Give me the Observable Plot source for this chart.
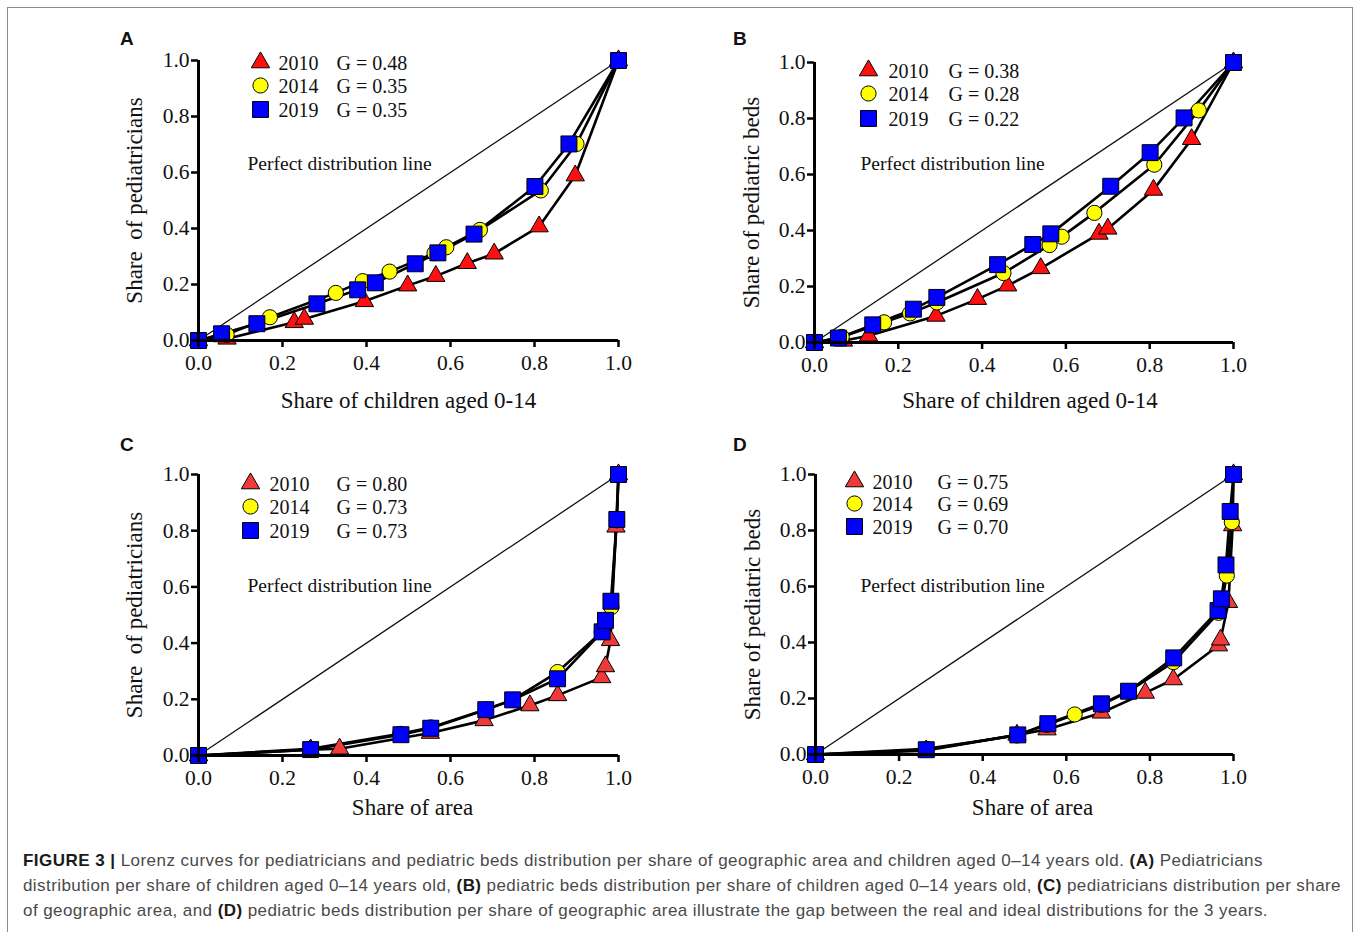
<!DOCTYPE html>
<html><head><meta charset="utf-8">
<script src="https://cdn.jsdelivr.net/npm/d3@7"></script>
<script src="https://cdn.jsdelivr.net/npm/@observablehq/plot@0.6"></script>
<style>
html,body{margin:0;padding:0;background:#fff;}
#fig{position:relative;width:1357px;height:932px;overflow:hidden;background:#fff;}
#frame{position:absolute;left:7px;top:7px;width:1346px;height:960px;border:1.5px solid #8c8c8c;box-sizing:border-box;}
.panel{position:absolute;}
.letter{position:absolute;font:bold 19px "Liberation Sans",Arial,sans-serif;color:#111;line-height:1;}
#caption{position:absolute;left:23px;top:848px;font:17px "Liberation Sans",Arial,sans-serif;color:#4a4a4a;line-height:25px;white-space:nowrap;}
#caption b{color:#1a1a1a;}
#caption .ln{display:block;}
</style></head>
<body>
<div id="fig">
  <div id="frame"></div>
  <div class="letter" style="left:120px;top:29px">A</div>
  <div class="letter" style="left:733px;top:29px">B</div>
  <div class="letter" style="left:120px;top:435px">C</div>
  <div class="letter" style="left:733px;top:435px">D</div>
  <div id="caption">
    <span class="ln"><b>FIGURE 3 |</b> Lorenz curves for pediatricians and pediatric beds distribution per share of geographic area and children aged 0–14 years old. <b>(A)</b> Pediatricians</span>
    <span class="ln">distribution per share of children aged 0–14 years old, <b>(B)</b> pediatric beds distribution per share of children aged 0–14 years old, <b>(C)</b> pediatricians distribution per share</span>
    <span class="ln">of geographic area, and <b>(D)</b> pediatric beds distribution per share of geographic area illustrate the gap between the real and ideal distributions for the 3 years.</span>
  </div>
</div>
<script>
// ---------- DATA ----------
const years = ["2010", "2014", "2019"];
const tickValues = [0, 0.2, 0.4, 0.6, 0.8, 1.0];
const diagonal = [0, 1];

// Panel A: pediatricians vs share of children aged 0-14
const aX2010 = [0, 0.068, 0.228, 0.252, 0.395, 0.498, 0.565, 0.640, 0.704, 0.811, 0.897, 1];
const aY2010 = [0, 0.006, 0.065, 0.077, 0.140, 0.196, 0.230, 0.276, 0.310, 0.407, 0.589, 1];
const aX2014 = [0, 0.067, 0.170, 0.327, 0.391, 0.455, 0.562, 0.590, 0.670, 0.815, 0.900, 1];
const aY2014 = [0, 0.021, 0.083, 0.170, 0.212, 0.246, 0.312, 0.333, 0.395, 0.536, 0.702, 1];
const aX2019 = [0, 0.055, 0.139, 0.282, 0.379, 0.421, 0.516, 0.570, 0.656, 0.801, 0.882, 1];
const aY2019 = [0, 0.024, 0.060, 0.131, 0.181, 0.206, 0.274, 0.313, 0.380, 0.550, 0.702, 1];
const giniA = ["0.48", "0.35", "0.35"];

// Panel B: pediatric beds vs share of children aged 0-14
const bX2010 = [0, 0.069, 0.129, 0.290, 0.389, 0.461, 0.540, 0.679, 0.700, 0.809, 0.900, 1];
const bY2010 = [0, 0.006, 0.024, 0.095, 0.155, 0.203, 0.265, 0.388, 0.406, 0.545, 0.726, 1];
const bX2014 = [0, 0.065, 0.166, 0.228, 0.292, 0.451, 0.561, 0.590, 0.668, 0.811, 0.917, 1];
const bY2014 = [0, 0.020, 0.072, 0.104, 0.143, 0.248, 0.348, 0.378, 0.463, 0.635, 0.829, 1];
const bX2019 = [0, 0.057, 0.139, 0.236, 0.292, 0.437, 0.521, 0.564, 0.707, 0.801, 0.882, 1];
const bY2019 = [0, 0.016, 0.063, 0.119, 0.161, 0.278, 0.350, 0.388, 0.558, 0.678, 0.802, 1];
const giniB = ["0.38", "0.28", "0.22"];

// Panel C: pediatricians vs share of area
const cX2010 = [0, 0.267, 0.336, 0.552, 0.680, 0.789, 0.855, 0.960, 0.969, 0.981, 0.994, 1];
const cY2010 = [0, 0.021, 0.024, 0.080, 0.125, 0.178, 0.214, 0.278, 0.317, 0.410, 0.814, 1];
const cX2014 = [0, 0.267, 0.480, 0.553, 0.684, 0.748, 0.855, 0.960, 0.969, 0.983, 0.996, 1];
const cY2014 = [0, 0.024, 0.077, 0.100, 0.164, 0.198, 0.297, 0.440, 0.481, 0.528, 0.837, 1];
const cX2019 = [0, 0.267, 0.482, 0.553, 0.684, 0.748, 0.855, 0.961, 0.969, 0.982, 0.996, 1];
const cY2019 = [0, 0.021, 0.074, 0.097, 0.163, 0.198, 0.273, 0.440, 0.481, 0.549, 0.840, 1];
const giniC = ["0.80", "0.73", "0.73"];

// Panel D: pediatric beds vs share of area
const dX2010 = [0, 0.265, 0.482, 0.554, 0.684, 0.789, 0.856, 0.964, 0.969, 0.988, 0.998, 1];
const dY2010 = [0, 0.014, 0.070, 0.089, 0.149, 0.220, 0.268, 0.389, 0.410, 0.544, 0.818, 1];
const dX2014 = [0, 0.265, 0.482, 0.554, 0.620, 0.684, 0.749, 0.856, 0.964, 0.972, 0.984, 0.996, 1];
const dY2014 = [0, 0.020, 0.068, 0.106, 0.143, 0.177, 0.225, 0.330, 0.506, 0.544, 0.639, 0.830, 1];
const dX2019 = [0, 0.265, 0.484, 0.556, 0.684, 0.749, 0.857, 0.963, 0.971, 0.982, 0.992, 1];
const dY2019 = [0, 0.017, 0.070, 0.110, 0.181, 0.226, 0.345, 0.514, 0.556, 0.677, 0.868, 1];
const giniD = ["0.75", "0.69", "0.70"];

const xLabelChildren = "Share of children aged 0-14";
const xLabelArea = "Share of area";
const yLabelPed = "Share  of pediatricians";
const yLabelBeds = "Share of pediatric beds";
const perfectLabel = "Perfect distribution line";

// ---------- LAYOUT / STYLE ----------
const SERIF = "'Liberation Serif','Times New Roman',serif";
const panels = [
  {x0:198, x1:618, yT:60,  yB:340, X:[aX2010,aX2014,aX2019], Y:[aY2010,aY2014,aY2019], gini:giniA,
   xl:xLabelChildren, yl:yLabelPed, red:"#ff1010",
   leg:{sym:62, yr:80, g:138, rows:[2,25,49]}, perf:{dx:49, dy:103}, xlDy:60, xlDx:0, ylDx:-64},
  {x0:814, x1:1233, yT:62, yB:342, X:[bX2010,bX2014,bX2019], Y:[bY2010,bY2014,bY2019], gini:giniB,
   xl:xLabelChildren, yl:yLabelBeds, red:"#ff1010",
   leg:{sym:54, yr:74, g:134, rows:[8,31,56]}, perf:{dx:46, dy:101}, xlDy:58, xlDx:6, ylDx:-63},
  {x0:198, x1:618, yT:474, yB:755, X:[cX2010,cX2014,cX2019], Y:[cY2010,cY2014,cY2019], gini:giniC,
   xl:xLabelArea, yl:yLabelPed, red:"#f03a3a",
   leg:{sym:52, yr:71, g:138, rows:[9,32,56]}, perf:{dx:49, dy:111}, xlDy:52, xlDx:4, ylDx:-64},
  {x0:815, x1:1233, yT:474, yB:754, X:[dX2010,dX2014,dX2019], Y:[dY2010,dY2014,dY2019], gini:giniD,
   xl:xLabelArea, yl:yLabelBeds, red:"#f03a3a",
   leg:{sym:39, yr:57, g:122, rows:[7,29,52]}, perf:{dx:45, dy:111}, xlDy:53, xlDx:8, ylDx:-63}
];
const ML = 100, MR = 40, MT = 40, MB = 80;
const symbols = ["triangle", "circle", "square"];
const radii = [6.8, 7.6, 9.0];

const fig = document.getElementById("fig");
panels.forEach(p => {
  const fills = [p.red, "#ffff00", "#0000ff"];
  const series = p.X.map((xs, k) => xs.map((x, i) => ({x, y: p.Y[k][i]})));
  const marks = [
    Plot.line(diagonal, {x: d => d, y: d => d, stroke: "#111", strokeWidth: 1.3}),
    ...series.map(s => Plot.line(s, {x: "x", y: "y", stroke: "#000", strokeWidth: 2.6})),
    ...series.map((s, k) => Plot.dot(s, {x: "x", y: "y", symbol: () => symbols[k], fill: fills[k], stroke: "#000", strokeWidth: 1, r: radii[k]})),
    Plot.ruleX([0], {stroke: "#000", strokeWidth: 3}),
    Plot.ruleY([0], {stroke: "#000", strokeWidth: 3}),
    Plot.axisX({ticks: tickValues, tickFormat: d3.format(".1f"), tickSize: 7, tickPadding: 7, fontSize: 21.5, strokeWidth: 2.5, label: null, fill: "#111"}),
    Plot.axisY({ticks: tickValues, tickFormat: d3.format(".1f"), tickSize: 7, tickPadding: 2, fontSize: 21.5, strokeWidth: 2.5, label: null, fill: "#111"}),
    Plot.text([p.xl], {text: d => d, frameAnchor: "bottom", dx: p.xlDx, dy: p.xlDy, lineAnchor: "middle", fontSize: 23, fill: "#111"}),
    Plot.text([p.yl], {text: d => d, frameAnchor: "left", dx: p.ylDx, rotate: -90, lineAnchor: "middle", textAnchor: "middle", fontSize: 23, fill: "#111"}),
    Plot.text([perfectLabel], {text: d => d, frameAnchor: "top-left", dx: p.perf.dx, dy: p.perf.dy, textAnchor: "start", lineAnchor: "middle", fontSize: 19.5, fill: "#111"}),
  ];
  years.forEach((yr, k) => {
    marks.push(Plot.dot([yr], {frameAnchor: "top-left", dx: p.leg.sym, dy: p.leg.rows[k], symbol: () => symbols[k], fill: fills[k], stroke: "#000", strokeWidth: 1, r: radii[k]}));
    marks.push(Plot.text([yr], {text: d => d, frameAnchor: "top-left", dx: p.leg.yr, dy: p.leg.rows[k] + 1, textAnchor: "start", lineAnchor: "middle", fontSize: 20, fill: "#111"}));
    marks.push(Plot.text([p.gini[k]], {text: d => "G = " + d, frameAnchor: "top-left", dx: p.leg.g, dy: p.leg.rows[k] + 1, textAnchor: "start", lineAnchor: "middle", fontSize: 20, fill: "#111"}));
  });
  const w = (p.x1 - p.x0) + ML + MR, h = (p.yB - p.yT) + MT + MB;
  const chart = Plot.plot({
    width: w, height: h,
    marginLeft: ML, marginRight: MR, marginTop: MT, marginBottom: MB,
    x: {domain: [0, 1]}, y: {domain: [0, 1]},
    style: {fontFamily: SERIF, color: "#000", background: "transparent", overflow: "visible"},
    marks
  });
  chart.classList.add("panel");
  chart.style.left = (p.x0 - ML) + "px";
  chart.style.top = (p.yT - MT) + "px";
  chart.style.maxWidth = "none";
  fig.appendChild(chart);
});

// fit caption lines to reference widths
const targets = [1240, 1318, 1245];
document.querySelectorAll("#caption .ln").forEach((el, i) => {
  el.style.display = "inline-block";
  const wNow = el.getBoundingClientRect().width;
  const n = el.textContent.length;
  el.style.letterSpacing = ((targets[i] - wNow) / n) + "px";
  el.style.display = "block";
});
</script>
</body></html>
